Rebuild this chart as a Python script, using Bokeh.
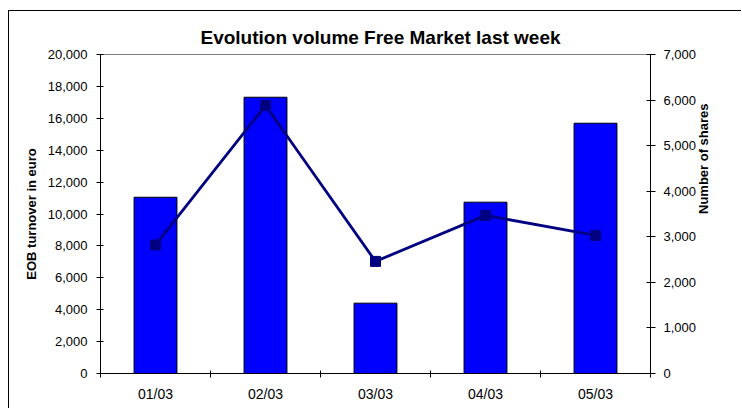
import math
from bokeh.plotting import figure
from bokeh.models import (Range1d, LinearAxis, FixedTicker, NumeralTickFormatter,
                          ColumnDataSource)
from bokeh.embed import file_html
from bokeh.resources import INLINE

categories = ["01/03", "02/03", "03/03", "04/03", "05/03"]
turnover = [11050, 17320, 4410, 10740, 15690]
shares = [2820, 5880, 2460, 3470, 3030]
left_ticks = list(range(0, 20001, 2000))
right_ticks = list(range(0, 7001, 1000))
title_text = "Evolution volume Free Market last week"
right_label = "Number of shares"

FONT = "Liberation Sans"
xs = [i + 0.5 for i in range(len(categories))]
src = ColumnDataSource(dict(x=xs, turnover=turnover, shares=shares, cat=categories))

p = figure(width=733, height=398, output_backend="svg", toolbar_location=None,
           x_range=Range1d(0, len(categories)), y_range=Range1d(0, 20000),
           min_border_left=91, min_border_right=92, min_border_top=43, min_border_bottom=36,
           title=title_text)
p.extra_y_ranges = {"shares": Range1d(0, 7000)}
p.styles = {"border-left": "1px solid black", "border-top": "1px solid black",
            "margin-left": "8px", "margin-top": "10px"}

p.title.align = "left"
p.title.offset = 100
p.title.standoff = 13
p.title.text_font = FONT
p.title.text_font_size = "19px"
p.title.text_font_style = "bold"
p.title.text_color = "black"

p.grid.visible = False
p.outline_line_color = "#808080"
p.outline_line_width = 1
p.background_fill_color = "white"
p.border_fill_color = "white"

p.vbar(x="x", top="turnover", width=0.39, bottom=0, source=src,
       fill_color="#0000FF", line_color="black", line_width=1)
p.line(x="x", y="shares", source=src, y_range_name="shares", line_color="#000080", line_width=2.8)
p.scatter(x="x", y="shares", source=src, y_range_name="shares", marker="square", size=10,
          fill_color="#000080", line_color="#000080")

# x axis
xa = p.xaxis[0]
xa.ticker = FixedTicker(ticks=xs, minor_ticks=list(range(len(categories) + 1)))
xa.major_label_overrides = {x: c for x, c in zip(xs, categories)}
xa.major_tick_in = 0
xa.major_tick_out = 0
xa.minor_tick_in = 3
xa.minor_tick_out = 4
xa.minor_tick_line_color = "black"
xa.axis_line_color = "black"
xa.major_label_text_font = FONT
xa.major_label_text_font_size = "14px"
xa.major_label_text_color = "black"
xa.major_label_standoff = 8

# left axis
ya = p.yaxis[0]
ya.ticker = FixedTicker(ticks=left_ticks)
ya.formatter = NumeralTickFormatter(format="0,0")
ya.major_tick_in = 3
ya.major_tick_out = 4
ya.minor_tick_line_color = None
ya.axis_line_color = "black"
ya.major_tick_line_color = "black"
ya.major_label_text_font = FONT
ya.major_label_text_font_size = "13px"
ya.major_label_text_color = "black"
ya.major_label_standoff = 9
ya.axis_label = "EOB turnover in euro"
ya.axis_label_text_font = FONT
ya.axis_label_text_font_size = "13px"
ya.axis_label_text_font_style = "bold"
ya.axis_label_text_color = "black"
ya.axis_label_standoff = 6

# right axis (ticks and numbers)
ra = LinearAxis(y_range_name="shares", ticker=FixedTicker(ticks=right_ticks),
                formatter=NumeralTickFormatter(format="0,0"))
ra.major_tick_in = 4
ra.major_tick_out = 5
ra.minor_tick_line_color = None
ra.axis_line_color = "black"
ra.major_tick_line_color = "black"
ra.major_label_text_font = FONT
ra.major_label_text_font_size = "13px"
ra.major_label_text_color = "black"
ra.major_label_standoff = 8
p.add_layout(ra, "right")

# right axis title (bottom-to-top), carried by a line-less helper axis
rt = LinearAxis(y_range_name="shares", ticker=FixedTicker(ticks=[]), bounds=(0, 4872))
rt.axis_line_color = None
rt.major_tick_line_color = None
rt.minor_tick_line_color = None
rt.major_tick_in = 0
rt.major_tick_out = 0
rt.minor_tick_out = 0
rt.major_label_standoff = 0
rt.axis_label = right_label
rt.axis_label_text_font = FONT
rt.axis_label_text_font_size = "13px"
rt.axis_label_text_font_style = "bold"
rt.axis_label_text_color = "black"
rt.axis_label_standoff = 4
rt.axis_label_orientation = math.pi / 2
p.add_layout(rt, "right")

open("out.html", "w").write(file_html(p, INLINE))
